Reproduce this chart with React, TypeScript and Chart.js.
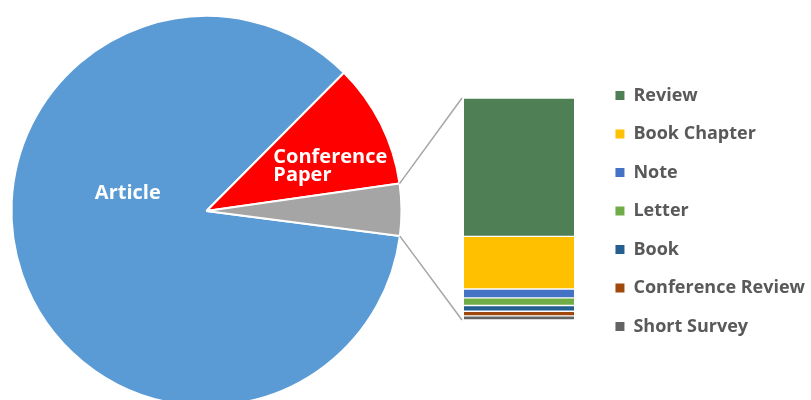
import React, { useEffect, useRef } from 'react';
import { Chart, registerables } from 'chart.js';

Chart.register(...registerables);

// ---- data ----
const pieLabels = ['Article', 'Conference Paper', 'Other'];
const pieValues = [85.4, 10.3, 4.3];
const pieColors = ['#5b9bd5', '#ff0000', '#a5a5a5'];
const pieLabelLines = [['Article'], ['Conference', 'Paper'], []];

const detailLabels = ['Review', 'Book Chapter', 'Note', 'Letter', 'Book', 'Conference Review', 'Short Survey'];
const detailValues = [2.68, 1.02, 0.17, 0.15, 0.11, 0.09, 0.08];
const detailColors = ['#4e7f55', '#ffc000', '#4472c4', '#70ad47', '#255e91', '#9e480e', '#636363'];

// ---- layout / style ----
const W = 811;
const H = 420;
const PIE_SHIFT = 182; // pie canvas starts this far left of the page
const PIE_W = 997;
const FONT = '"Open Sans", "Noto Sans", sans-serif';
const labelPlacement = [
  { angle: -166.5, dist: 0.415 },
  { angle: -20.5, dist: 0.678 },
  null,
];

const pieLabelPlugin = {
  id: 'pieLabels',
  afterDatasetsDraw(chart: any) {
    const ctx = chart.ctx;
    const meta = chart.getDatasetMeta(0);
    meta.data.forEach((arc: any, i: number) => {
      const lines = pieLabelLines[i];
      const place = labelPlacement[i];
      if (!lines || !lines.length || !place) return;
      const { x, y, outerRadius } = arc.getProps(['x', 'y', 'outerRadius'], true);
      const a = (place.angle * Math.PI) / 180;
      const cx = x + Math.cos(a) * place.dist * outerRadius;
      const cy = y + Math.sin(a) * place.dist * outerRadius;
      ctx.save();
      ctx.font = `bold 20px ${FONT}`;
      ctx.fillStyle = '#ffffff';
      ctx.textBaseline = 'alphabetic';
      ctx.textAlign = 'left';
      const w = Math.max(...lines.map((l) => ctx.measureText(l).width));
      const left = cx - w / 2;
      lines.forEach((line, j) => {
        ctx.fillText(line, left, cy + 7 + (j - (lines.length - 1) / 2) * 18);
      });
      ctx.restore();
    });
  },
};

export default function App() {
  const pieRef = useRef<HTMLCanvasElement | null>(null);
  const barRef = useRef<HTMLCanvasElement | null>(null);

  useEffect(() => {
    if (!pieRef.current || !barRef.current) return;

    const pie = new Chart(pieRef.current, {
      type: 'pie',
      data: {
        labels: pieLabels,
        datasets: [
          {
            data: pieValues,
            backgroundColor: pieColors,
            borderColor: '#ffffff',
            borderWidth: 2,
          },
        ],
      },
      options: {
        responsive: false,
        animation: false,
        events: [],
        devicePixelRatio: 1,
        rotation: 97.4,
        layout: { padding: { left: 0, right: 0, top: 15, bottom: 13 } },
        plugins: {
          tooltip: { enabled: false },
          legend: {
            display: true,
            position: 'right',
            onClick: () => {},
            labels: {
              boxWidth: 9,
              boxHeight: 9,
              padding: 20.5,
              color: '#595959',
              font: { family: FONT, size: 18, weight: 'bold' },
              generateLabels: () =>
                detailLabels.map((text, i) => ({
                  text,
                  fillStyle: detailColors[i],
                  strokeStyle: detailColors[i],
                  lineWidth: 0,
                  hidden: false,
                  index: i,
                  fontColor: '#595959',
                })),
            },
          },
        },
      } as any,
      plugins: [pieLabelPlugin],
    });

    const connectorPlugin = {
      id: 'connectors',
      afterDraw(chart: any) {
        const arc: any = pie.getDatasetMeta(0).data[2];
        if (!arc) return;
        const { x, y, outerRadius, startAngle, endAngle } = arc.getProps(
          ['x', 'y', 'outerRadius', 'startAngle', 'endAngle'],
          true
        );
        const px = x - PIE_SHIFT;
        let top = Infinity;
        let bottom = -Infinity;
        let left = Infinity;
        chart.data.datasets.forEach((_: any, di: number) => {
          const el: any = chart.getDatasetMeta(di).data[0];
          if (!el) return;
          const p = el.getProps(['x', 'y', 'base', 'width'], true);
          top = Math.min(top, p.y, p.base);
          bottom = Math.max(bottom, p.y, p.base);
          left = Math.min(left, p.x - p.width / 2);
        });
        const ctx = chart.ctx;
        ctx.save();
        ctx.strokeStyle = '#a6a6a6';
        ctx.lineWidth = 1.5;
        ctx.beginPath();
        ctx.moveTo(px + Math.cos(startAngle) * outerRadius, y + Math.sin(startAngle) * outerRadius);
        ctx.lineTo(left - 2, top);
        ctx.moveTo(px + Math.cos(endAngle) * outerRadius, y + Math.sin(endAngle) * outerRadius);
        ctx.lineTo(left - 2, bottom);
        ctx.stroke();
        ctx.restore();
      },
    };

    const total = detailValues.reduce((a, b) => a + b, 0);

    const bar = new Chart(barRef.current, {
      type: 'bar',
      data: {
        labels: ['Other'],
        datasets: detailLabels.map((label, i) => ({
          label,
          data: [detailValues[i]],
          backgroundColor: detailColors[i],
          borderColor: '#ffffff',
          borderWidth: { top: 1, bottom: 1, left: 0, right: 0 },
          borderSkipped: false,
          categoryPercentage: 1,
          barPercentage: 1,
        })),
      },
      options: {
        responsive: false,
        animation: false,
        events: [],
        devicePixelRatio: 1,
        layout: { padding: { left: 464, right: W - 574, top: 98, bottom: H - 320 } },
        scales: {
          x: { display: false, stacked: true },
          y: { display: false, stacked: true, reverse: true, min: 0, max: total },
        },
        plugins: {
          legend: { display: false },
          tooltip: { enabled: false },
        },
      } as any,
      plugins: [connectorPlugin],
    });

    return () => {
      bar.destroy();
      pie.destroy();
    };
  }, []);

  return (
    <div
      style={{
        position: 'fixed',
        left: 0,
        top: 0,
        width: W,
        height: 400,
        overflow: 'hidden',
        background: '#ffffff',
      }}
    >
      <canvas
        ref={pieRef}
        width={PIE_W}
        height={H}
        style={{ position: 'absolute', left: -PIE_SHIFT, top: 0, width: PIE_W, height: H }}
      />
      <canvas
        ref={barRef}
        width={W}
        height={H}
        style={{ position: 'absolute', left: 0, top: 0, width: W, height: H }}
      />
    </div>
  );
}
